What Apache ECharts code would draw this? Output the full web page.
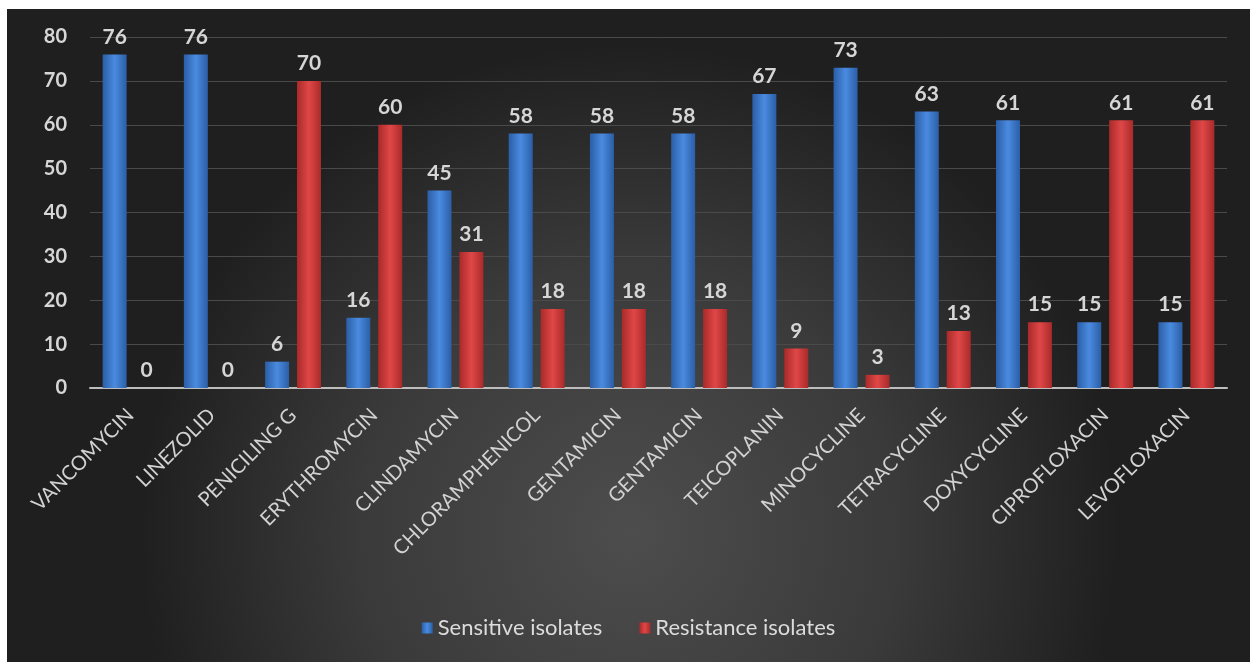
<!DOCTYPE html>
<html>
<head>
<meta charset="utf-8">
<script src="https://cdn.jsdelivr.net/npm/echarts@6/dist/echarts.min.js"></script>
<style>
  html, body { margin: 0; padding: 0; background: #ffffff; width: 1250px; height: 662px; overflow: hidden; }
  #chart { position: absolute; left: 7px; top: 9px; width: 1243px; height: 653px; }
</style>
</head>
<body>
<div id="chart"></div>
<script>
// Antibiotic susceptibility of isolates
const categories = ['VANCOMYCIN', 'LINEZOLID', 'PENICILING G', 'ERYTHROMYCIN', 'CLINDAMYCIN',
  'CHLORAMPHENICOL', 'GENTAMICIN', 'GENTAMICIN', 'TEICOPLANIN', 'MINOCYCLINE',
  'TETRACYCLINE', 'DOXYCYCLINE', 'CIPROFLOXACIN', 'LEVOFLOXACIN'];
const sensitive = [76, 76, 6, 16, 45, 58, 58, 58, 67, 73, 63, 61, 15, 15];
const resistant = [0, 0, 70, 60, 31, 18, 18, 18, 9, 3, 13, 15, 61, 61];
const seriesNames = ['Sensitive isolates', 'Resistance isolates'];

const FONT = 'Lato, "Open Sans", sans-serif';

function barGradient(edge, mid) {
  return new echarts.graphic.LinearGradient(0, 0, 1, 0, [
    { offset: 0, color: edge },
    { offset: 0.5, color: mid },
    { offset: 1, color: edge }
  ]);
}

const valueLabel = {
  show: true,
  position: 'top',
  distance: 7,
  color: '#d6d6d6',
  fontFamily: FONT,
  fontWeight: 'bold',
  fontSize: 21
};

const chart = echarts.init(document.getElementById('chart'));
chart.setOption({
  backgroundColor: new echarts.graphic.RadialGradient(0.5, 0.8, 0.75, [
    { offset: 0, color: '#4d4d4d' },
    { offset: 0.55, color: '#3a3a3a' },
    { offset: 1, color: '#1f1f1f' }
  ]),
  textStyle: { fontFamily: FONT },
  grid: { left: 83, right: 23, top: 28, bottom: 274, containLabel: false },
  legend: {
    bottom: 18,
    left: 'center',
    itemWidth: 11,
    itemHeight: 11,
    itemGap: 37,
    icon: 'rect',
    textStyle: { color: '#dcdcdc', fontSize: 22, fontFamily: FONT },
    data: seriesNames
  },
  xAxis: {
    type: 'category',
    data: categories,
    axisLine: { lineStyle: { color: '#bdbdbd', width: 2 } },
    axisTick: { show: false },
    axisLabel: {
      interval: 0,
      rotate: 45,
      margin: 24,
      color: '#d2d2d2',
      fontSize: 20,
      fontFamily: FONT
    }
  },
  yAxis: {
    type: 'value',
    min: 0,
    max: 80,
    interval: 10,
    axisLine: { show: false },
    axisTick: { show: false },
    splitLine: { lineStyle: { color: '#4a4a4a', width: 1 } },
    axisLabel: {
      margin: 23,
      color: '#d6d6d6',
      fontSize: 20,
      fontWeight: 'bold',
      fontFamily: FONT
    }
  },
  series: [
    {
      name: seriesNames[0],
      type: 'bar',
      data: sensitive,
      barWidth: 24,
      barGap: '33%',
      itemStyle: { color: barGradient('#2b5ea6', '#4a8be0') },
      label: valueLabel
    },
    {
      name: seriesNames[1],
      type: 'bar',
      data: resistant,
      barWidth: 24,
      barGap: '33%',
      itemStyle: { color: barGradient('#a92a2a', '#e04747') },
      label: valueLabel
    }
  ]
});
</script>
</body>
</html>
